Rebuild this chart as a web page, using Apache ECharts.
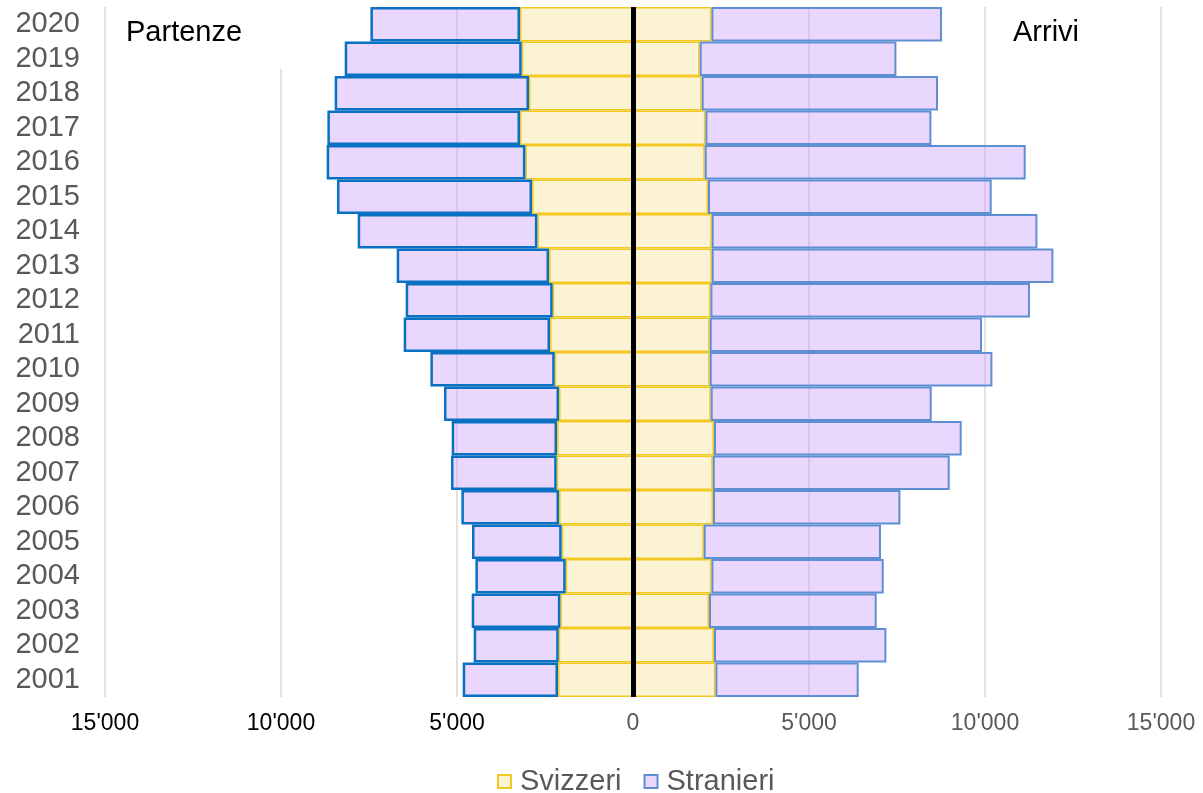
<!DOCTYPE html>
<html>
<head>
<meta charset="utf-8">
<script src="https://cdn.jsdelivr.net/npm/echarts@6/dist/echarts.min.js"></script>
<style>
html,body{margin:0;padding:0;background:#fff;}
#chart{width:1203px;height:793px;}
</style>
</head>
<body>
<div id="chart"></div>
<script>
// Categories (bottom to top)
const years = ['2001','2002','2003','2004','2005','2006','2007','2008','2009','2010',
               '2011','2012','2013','2014','2015','2016','2017','2018','2019','2020'];
// Partenze (departures)
const svizzeriPartenze  = [2131, 2111, 2063, 1912, 2026, 2102, 2168, 2159, 2102, 2224,
                           2358, 2281, 2386, 2716, 2869, 3057, 3210, 2955, 3162, 3210];
const stranieriPartenze = [2707, 2415, 2519, 2565, 2548, 2773, 3002, 2991, 3267, 3532,
                           4156, 4176, 4327, 5105, 5540, 5645, 5472, 5520, 5028, 4250];
// Arrivi (arrivals)
const svizzeriArrivi  = [2341, 2301, 2159, 2227, 2009, 2273, 2264, 2301, 2207, 2179,
                         2179, 2199, 2236, 2236, 2131, 2037, 2057, 1952, 1895, 2227];
const stranieriArrivi = [4071, 4898, 4764, 4895, 5036, 5324, 6733, 7037, 6279, 8031,
                         7736, 9079, 9707, 9253, 8059, 9119, 6420, 6713, 5588, 6551];
// x-axis ticks
const xMin = -15000, xMax = 15000, xStep = 5000;

const FONT = '"Liberation Sans", Arial, sans-serif';
const YELLOW_FILL = '#FBF3D3';
const YELLOW_BORDER = '#F2C923';
const PURPLE_FILL = 'rgba(205,160,252,0.42)';
const BLUE_DARK = '#0A70C2';
const BLUE_LIGHT = '#5F8FD3';

function fmt(v){
  const a = Math.abs(v);
  return String(a).replace(/\B(?=(\d{3})+(?!\d))/g, "'");
}

const chart = echarts.init(document.getElementById('chart'), null, {renderer:'canvas'});
const commonBar = {type:'bar', barCategoryGap:'0%', barGap:'-100%', animation:false};

chart.setOption({
  animation:false,
  textStyle:{fontFamily:FONT},
  grid:{left:105, right:42, top:7, bottom:96, containLabel:false},
  xAxis:{
    type:'value', min:xMin, max:xMax, interval:xStep,
    axisLine:{show:false}, axisTick:{show:false},
    splitLine:{show:true, lineStyle:{color:'#D9D9D9', width:1.5}},
    axisLabel:{
      margin:15, fontSize:23, fontFamily:FONT,
      formatter:function(v){ return v < 0 ? '{b|'+fmt(v)+'}' : '{g|'+fmt(v)+'}'; },
      rich:{
        b:{color:'#000', fontSize:23, fontFamily:FONT},
        g:{color:'#595959', fontSize:23, fontFamily:FONT}
      }
    }
  },
  yAxis:{
    type:'category', data:years,
    axisLine:{show:false}, axisTick:{show:false},
    splitLine:{show:false},
    axisLabel:{interval:0, margin:25, fontSize:29, color:'#595959', fontFamily:FONT}
  },
  legend:{
    left:492, top:762,
    itemWidth:13, itemHeight:13, itemGap:22,
    icon:'rect',
    textStyle:{fontSize:29, color:'#595959', fontFamily:FONT, padding:[0,0,0,4]},
    data:[
      {name:'Svizzeri', itemStyle:{color:YELLOW_FILL, borderColor:YELLOW_BORDER, borderWidth:2}},
      {name:'Stranieri', itemStyle:{color:'#EBD8FE', borderColor:BLUE_LIGHT, borderWidth:2}}
    ]
  },
  graphic:[
    {type:'rect', z:1, shape:{x:240, y:0, width:80, height:69}, style:{fill:'#fff'}},
    {type:'text', z:10, left:126, top:18, style:{text:'Partenze', font:'29px '+FONT, fill:'#000'}},
    {type:'text', z:10, left:1013, top:18, style:{text:'Arrivi', font:'29px '+FONT, fill:'#000'}}
  ],
  series:[
    Object.assign({}, commonBar, {
      name:'Svizzeri', stack:'partenze',
      data:svizzeriPartenze.map(v => -v),
      itemStyle:{color:YELLOW_FILL, borderColor:YELLOW_BORDER, borderWidth:1.5}
    }),
    Object.assign({}, commonBar, {
      name:'Stranieri', stack:'partenze',
      data:stranieriPartenze.map(v => -v),
      itemStyle:{color:PURPLE_FILL, borderColor:BLUE_DARK, borderWidth:2.5}
    }),
    Object.assign({}, commonBar, {
      name:'Svizzeri', stack:'arrivi',
      data:svizzeriArrivi,
      itemStyle:{color:YELLOW_FILL, borderColor:YELLOW_BORDER, borderWidth:1.5}
    }),
    Object.assign({}, commonBar, {
      name:'Stranieri', stack:'arrivi',
      data:stranieriArrivi,
      itemStyle:{color:PURPLE_FILL, borderColor:BLUE_LIGHT, borderWidth:2},
      markLine:{
        silent:true, symbol:['none','none'], animation:false,
        label:{show:false},
        lineStyle:{color:'#000', width:5, type:'solid'},
        data:[{xAxis:0}]
      }
    })
  ]
});
</script>
</body>
</html>
